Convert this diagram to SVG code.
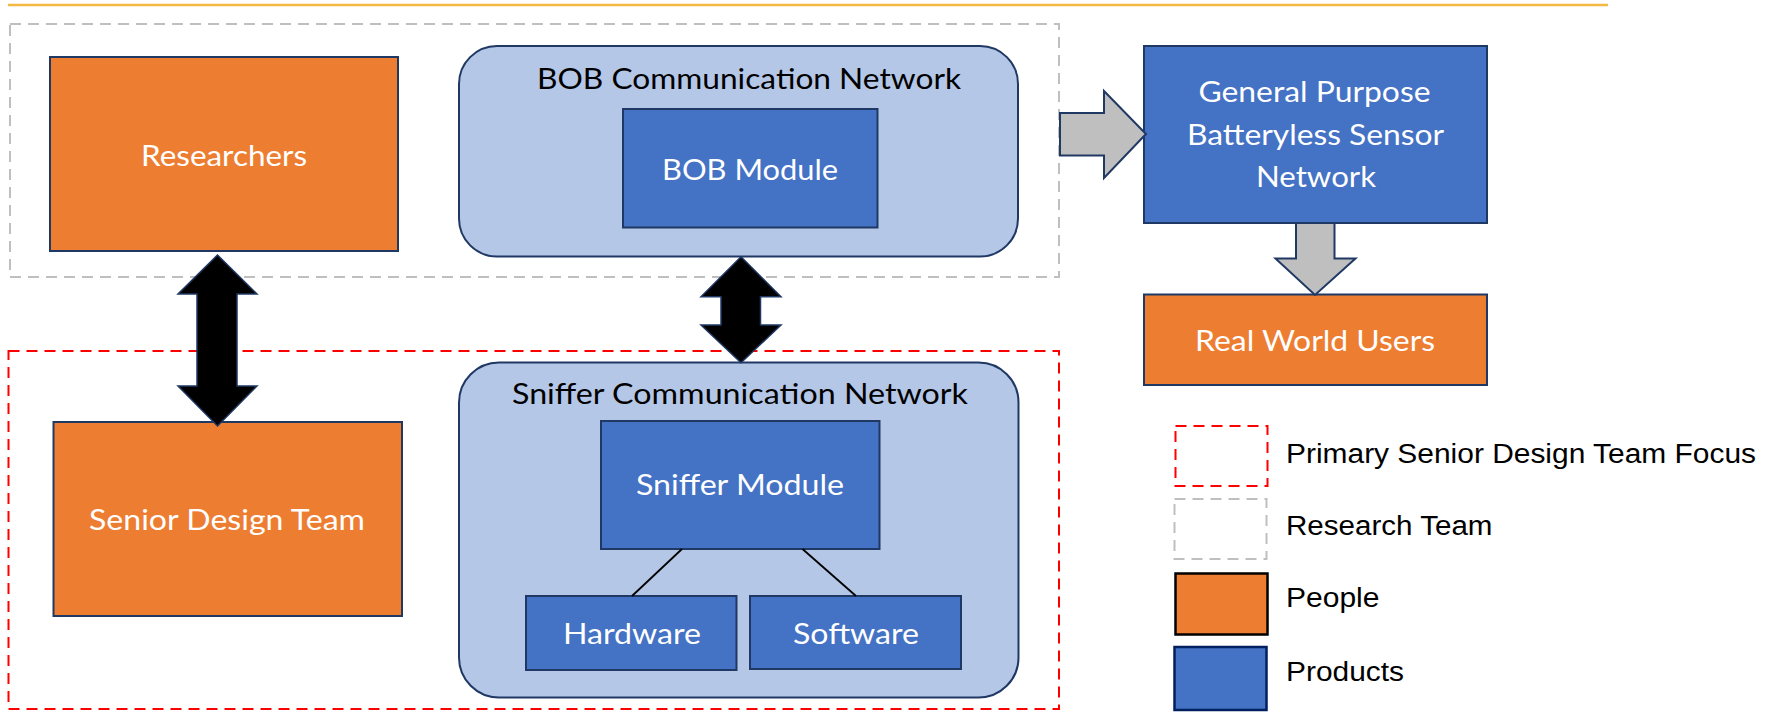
<svg xmlns="http://www.w3.org/2000/svg" width="1767" height="712" viewBox="0 0 1767 712">
  <style>
    .node { stroke: #1F3864; stroke-width: 2; }
    .people { fill: #ED7D31; }
    .product { fill: #4472C4; }
    .network { fill: #B4C7E7; }
    .label { font-family: Lato, "Open Sans", sans-serif; font-size: 29px; fill: #FFFFFF; }
    .title { font-family: Lato, "Open Sans", sans-serif; font-size: 29px; fill: #000000; }
    .legend-text { font-family: "Liberation Sans", Arial, sans-serif; font-size: 27px; fill: #000000; }
    .zone-research { fill: none; stroke: #BFBFBF; stroke-width: 2; stroke-dasharray: 11 7; }
    .zone-focus { fill: none; stroke: #FF0000; stroke-width: 2; stroke-dasharray: 11 7; }
    .big-arrow { fill: #000000; stroke: #1F3864; stroke-width: 1.5; stroke-linejoin: miter; }
    .flow-arrow { fill: #BFBFBF; stroke: #1F3864; stroke-width: 2; stroke-linejoin: miter; }
    .tree-link { stroke: #000000; stroke-width: 1.8; }
  </style>

  <!-- header rule -->
  <line x1="8" y1="5" x2="1608" y2="5" stroke="#F4B942" stroke-width="2.5"/>

  <!-- team zones -->
  <g id="zones">
    <rect id="zone-research" class="zone-research" x="10" y="24" width="1049" height="253"/>
    <rect id="zone-focus" class="zone-focus" x="8.5" y="351" width="1050.5" height="358"/>
  </g>

  <g id="researchers">
    <rect class="node people" x="50" y="57" width="348" height="194"/>
    <text class="label" x="141" y="166" textLength="166" lengthAdjust="spacingAndGlyphs">Researchers</text>
  </g>

  <g id="bob-network">
    <rect class="node network" x="459" y="46" width="559" height="210.5" rx="38" ry="38"/>
    <text class="title" x="537" y="89" textLength="424" lengthAdjust="spacingAndGlyphs">BOB Communication Network</text>
  </g>

  <g id="bob-module">
    <rect class="node product" x="623" y="109" width="254.5" height="118.5"/>
    <text class="label" x="662" y="180" textLength="176" lengthAdjust="spacingAndGlyphs">BOB Module</text>
  </g>

  <g id="general-purpose">
    <rect class="node product" x="1144" y="46" width="343" height="177"/>
    <text class="label" x="1198.5" y="102" textLength="232" lengthAdjust="spacingAndGlyphs">General Purpose</text>
    <text class="label" x="1187" y="145" textLength="257" lengthAdjust="spacingAndGlyphs">Batteryless Sensor</text>
    <text class="label" x="1256" y="187" textLength="120" lengthAdjust="spacingAndGlyphs">Network</text>
  </g>

  <g id="real-world-users">
    <rect class="node people" x="1144" y="294.5" width="343" height="90.5"/>
    <text class="label" x="1195" y="350.5" textLength="240" lengthAdjust="spacingAndGlyphs">Real World Users</text>
  </g>

  <g id="senior-design-team">
    <rect class="node people" x="53.5" y="422" width="348.5" height="194"/>
    <text class="label" x="89" y="530" textLength="276" lengthAdjust="spacingAndGlyphs">Senior Design Team</text>
  </g>

  <g id="sniffer-network">
    <rect class="node network" x="459" y="362.5" width="559.5" height="335" rx="40" ry="40"/>
    <text class="title" x="512" y="404" textLength="456" lengthAdjust="spacingAndGlyphs">Sniffer Communication Network</text>
  </g>

  <g id="sniffer-module">
    <rect class="node product" x="601" y="421" width="278.5" height="128"/>
    <text class="label" x="636" y="495" textLength="208" lengthAdjust="spacingAndGlyphs">Sniffer Module</text>
  </g>

  <g id="hardware">
    <rect class="node product" x="526" y="596" width="210.5" height="74"/>
    <text class="label" x="563" y="644" textLength="138" lengthAdjust="spacingAndGlyphs">Hardware</text>
  </g>

  <g id="software">
    <rect class="node product" x="750" y="596" width="211" height="73"/>
    <text class="label" x="793" y="644" textLength="126" lengthAdjust="spacingAndGlyphs">Software</text>
  </g>

  <!-- connectors -->
  <g id="connectors">
    <!-- Researchers <-> Senior Design Team -->
    <path class="big-arrow" d="M217.5,255 L257,294 L237,294 L237,386 L257,386 L217.5,426 L178,386 L197,386 L197,294 L178,294 Z"/>
    <!-- BOB network <-> Sniffer network -->
    <path class="big-arrow" d="M741,256.7 L781,296.7 L760.5,296.7 L760.5,325 L781,325 L741,362.7 L701,325 L721,325 L721,296.7 L701,296.7 Z"/>
    <!-- research output -> general purpose network -->
    <path class="flow-arrow" d="M1060,113 L1104,113 L1104,91 L1146,134 L1104,178 L1104,155.5 L1060,155.5 Z"/>
    <!-- general purpose network -> real world users -->
    <path class="flow-arrow" d="M1296,223 L1334.5,223 L1334.5,258.5 L1355.5,258.5 L1315,295 L1275.5,258.5 L1296,258.5 Z"/>
    <!-- sniffer module breakdown -->
    <line class="tree-link" x1="682" y1="549" x2="632" y2="596"/>
    <line class="tree-link" x1="802.5" y1="549" x2="856" y2="596"/>
  </g>

  <!-- key -->
  <g id="legend">
    <rect class="zone-focus" x="1175.5" y="426" width="92" height="60"/>
    <text class="legend-text" x="1286" y="463" textLength="470" lengthAdjust="spacingAndGlyphs">Primary Senior Design Team Focus</text>
    <rect class="zone-research" x="1174.5" y="499" width="92" height="60"/>
    <text class="legend-text" x="1286" y="535" textLength="206.5" lengthAdjust="spacingAndGlyphs">Research Team</text>
    <rect x="1175.5" y="573.5" width="92" height="61" fill="#ED7D31" stroke="#000000" stroke-width="2.5"/>
    <text class="legend-text" x="1286" y="606.5" textLength="93.5" lengthAdjust="spacingAndGlyphs">People</text>
    <rect x="1174.5" y="647" width="92" height="63" fill="#4472C4" stroke="#002060" stroke-width="2.5"/>
    <text class="legend-text" x="1286" y="680.5" textLength="118" lengthAdjust="spacingAndGlyphs">Products</text>
  </g>
</svg>
